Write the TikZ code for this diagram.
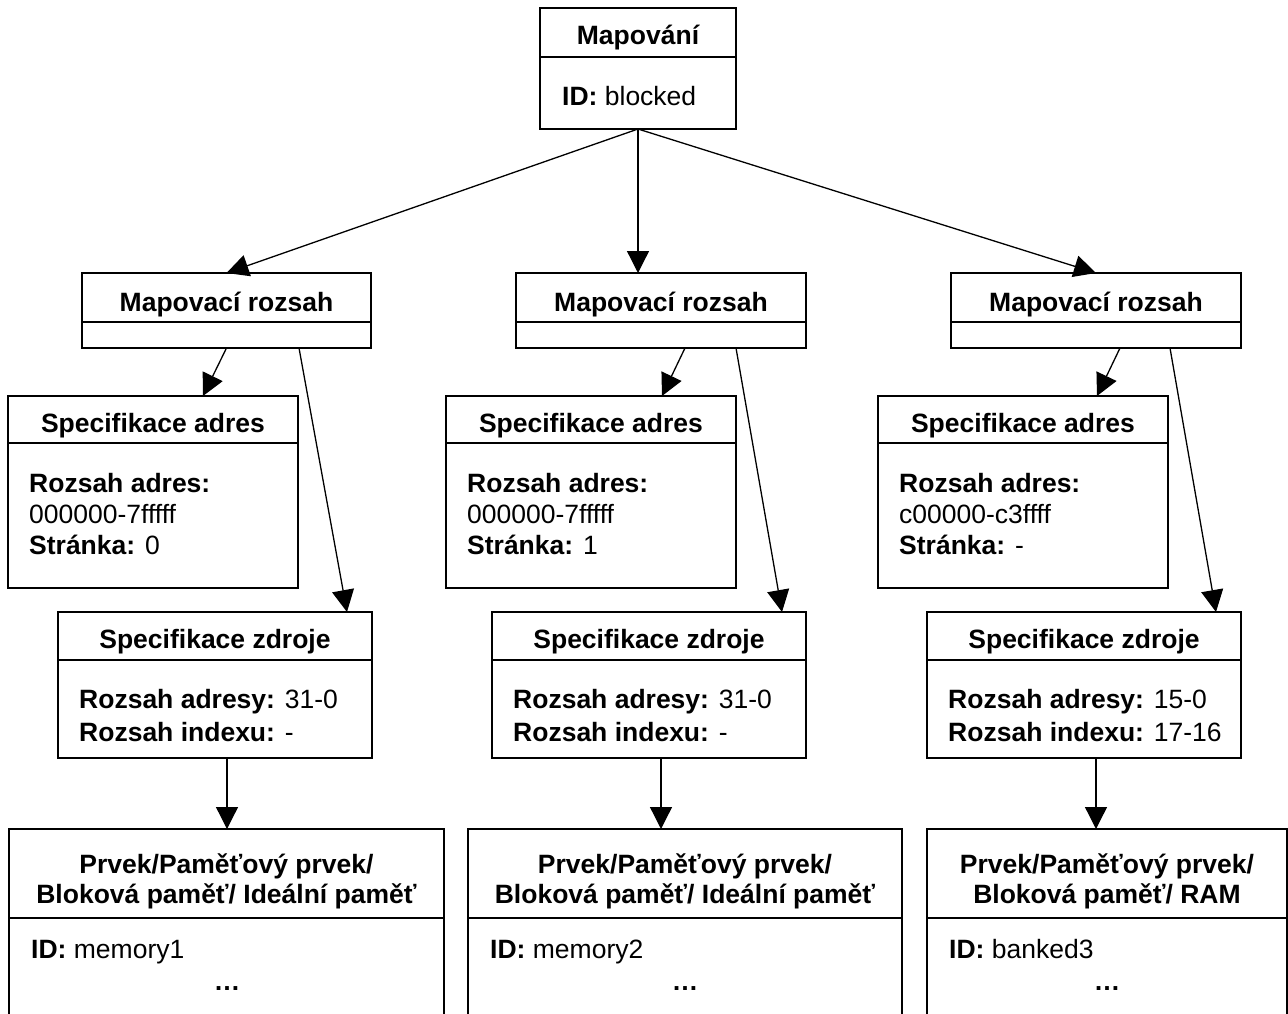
\documentclass[tikz,border=0pt]{standalone}
\usepackage{fontspec}
\setmainfont{Liberation Sans}
\usetikzlibrary{arrows.meta,calc}

\tikzset{
  box/.style={draw, line width=1.4pt, anchor=north west, inner sep=0pt, outer sep=0pt, rectangle},
  ttl/.style={anchor=base, inner sep=0pt, font=\fontsize{26.5}{31}\selectfont\bfseries},
  ln/.style={anchor=base west, inner sep=0pt, font=\fontsize{26.5}{31}\selectfont},
  dots/.style={anchor=base, inner sep=0pt, font=\fontsize{26.5}{31}\selectfont\bfseries},
  arr/.style={line width=1.3pt, -{Triangle[length=22pt,width=22pt]}},
}

% \boxpart{name}{x}{y}{width}{height}: one compartment of a class box
\newcommand{\boxpart}[5]{\node[box, minimum width=#4pt, minimum height=#5pt] (#1) at (#2,#3) {};}

\begin{document}
\begin{tikzpicture}[x=1pt, y=-1pt]
\useasboundingbox (0,0) rectangle (1288,1014);
\fill[white] (0,0) rectangle (1288,1014);
\clip (0,0) rectangle (1288,1014);

% ---- root: Mapování ----
\boxpart{topT}{540}{8}{196}{49}
\boxpart{topB}{540}{57}{196}{72}
\node[ttl] (topTt) at (638,45) {Mapování};
\node[ln] (topBt) at (562,106) {\textbf{ID:} blocked};

% ---- mapping ranges ----
\boxpart{m1T}{82}{273}{289}{49}
\boxpart{m1B}{82}{322}{289}{26}
\boxpart{m2T}{516}{273}{290}{49}
\boxpart{m2B}{516}{322}{290}{26}
\boxpart{m3T}{951}{273}{290}{49}
\boxpart{m3B}{951}{322}{290}{26}
\node[ttl] (m1Tt) at (226.5,311) {Mapovací rozsah};
\node[ttl] (m2Tt) at (661,311) {Mapovací rozsah};
\node[ttl] (m3Tt) at (1096,311) {Mapovací rozsah};

% ---- address specifications ----
\boxpart{a1T}{8}{396}{290}{47}
\boxpart{a1B}{8}{443}{290}{145}
\boxpart{a2T}{446}{396}{290}{47}
\boxpart{a2B}{446}{443}{290}{145}
\boxpart{a3T}{878}{396}{290}{47}
\boxpart{a3B}{878}{443}{290}{145}
\node[ttl] (a1Tt) at (153,432) {Specifikace adres};
\node[ttl] (a2Tt) at (591,432) {Specifikace adres};
\node[ttl] (a3Tt) at (1023,432) {Specifikace adres};
\node[ln] (a1l1) at (29,492) {\textbf{Rozsah adres:}};
\node[ln] (a1l2) at (29,523) {000000-7fffff};
\node[ln] (a1l3) at (29,554) {\textbf{Stránka:} 0};
\node[ln] (a2l1) at (467,492) {\textbf{Rozsah adres:}};
\node[ln] (a2l2) at (467,523) {000000-7fffff};
\node[ln] (a2l3) at (467,554) {\textbf{Stránka:} 1};
\node[ln] (a3l1) at (899,492) {\textbf{Rozsah adres:}};
\node[ln] (a3l2) at (899,523) {c00000-c3ffff};
\node[ln] (a3l3) at (899,554) {\textbf{Stránka:} -};

% ---- source specifications ----
\boxpart{z1T}{58}{612}{314}{48}
\boxpart{z1B}{58}{660}{314}{98}
\boxpart{z2T}{492}{612}{314}{48}
\boxpart{z2B}{492}{660}{314}{98}
\boxpart{z3T}{927}{612}{314}{48}
\boxpart{z3B}{927}{660}{314}{98}
\node[ttl] (z1Tt) at (215,648) {Specifikace zdroje};
\node[ttl] (z2Tt) at (649,648) {Specifikace zdroje};
\node[ttl] (z3Tt) at (1084,648) {Specifikace zdroje};
\node[ln] (z1l1) at (79,708) {\textbf{Rozsah adresy:} 31-0};
\node[ln] (z1l2) at (79,741) {\textbf{Rozsah indexu:} -};
\node[ln] (z2l1) at (513,708) {\textbf{Rozsah adresy:} 31-0};
\node[ln] (z2l2) at (513,741) {\textbf{Rozsah indexu:} -};
\node[ln] (z3l1) at (948,708) {\textbf{Rozsah adresy:} 15-0};
\node[ln] (z3l2) at (948,741) {\textbf{Rozsah indexu:} 17-16};

% ---- memory elements (run past the lower edge) ----
\boxpart{b1T}{9}{829}{435}{89}
\boxpart{b1B}{9}{918}{435}{130}
\boxpart{b2T}{468}{829}{434}{89}
\boxpart{b2B}{468}{918}{434}{130}
\boxpart{b3T}{927}{829}{360}{89}
\boxpart{b3B}{927}{918}{360}{130}
\node[ttl] (b1t1) at (226.5,873) {Prvek/Paměťový prvek/};
\node[ttl] (b1t2) at (226.5,903) {Bloková paměť/ Ideální paměť};
\node[ttl] (b2t1) at (685,873) {Prvek/Paměťový prvek/};
\node[ttl] (b2t2) at (685,903) {Bloková paměť/ Ideální paměť};
\node[ttl] (b3t1) at (1107,873) {Prvek/Paměťový prvek/};
\node[ttl] (b3t2) at (1107,903) {Bloková paměť/ RAM};
\node[ln] (b1l1) at (31,958) {\textbf{ID:} memory1};
\node[ln] (b2l1) at (490,958) {\textbf{ID:} memory2};
\node[ln] (b3l1) at (949,958) {\textbf{ID:} banked3};
\node[dots] (b1l2) at (227,990) {…};
\node[dots] (b2l2) at (685,990) {…};
\node[dots] (b3l2) at (1107,990) {…};

% ---- connectors ----
\draw[arr] (topB.south) -- (m1T.north);
\draw[arr] (topB.south) -- (topB.south |- m2T.north);
\draw[arr] (topB.south) -- (m3T.north);

\draw[arr] (m1B.south) -- ([xshift=50]a1T.north);
\draw[arr] ([xshift=24]m2B.south) -- ([xshift=71]a2T.north);
\draw[arr] ([xshift=24]m3B.south) -- ([xshift=74]a3T.north);

\draw[arr] ([xshift=72.5]m1B.south) -- ([xshift=132]z1T.north);
\draw[arr] ([xshift=75]m2B.south) -- ([xshift=133]z2T.north);
\draw[arr] ([xshift=74]m3B.south) -- ([xshift=132]z3T.north);

\draw[arr] ([xshift=12]z1B.south) -- ([xshift=12]z1B.south |- b1T.north);
\draw[arr] ([xshift=12]z2B.south) -- ([xshift=12]z2B.south |- b2T.north);
\draw[arr] ([xshift=12]z3B.south) -- ([xshift=12]z3B.south |- b3T.north);
\end{tikzpicture}
\end{document}
